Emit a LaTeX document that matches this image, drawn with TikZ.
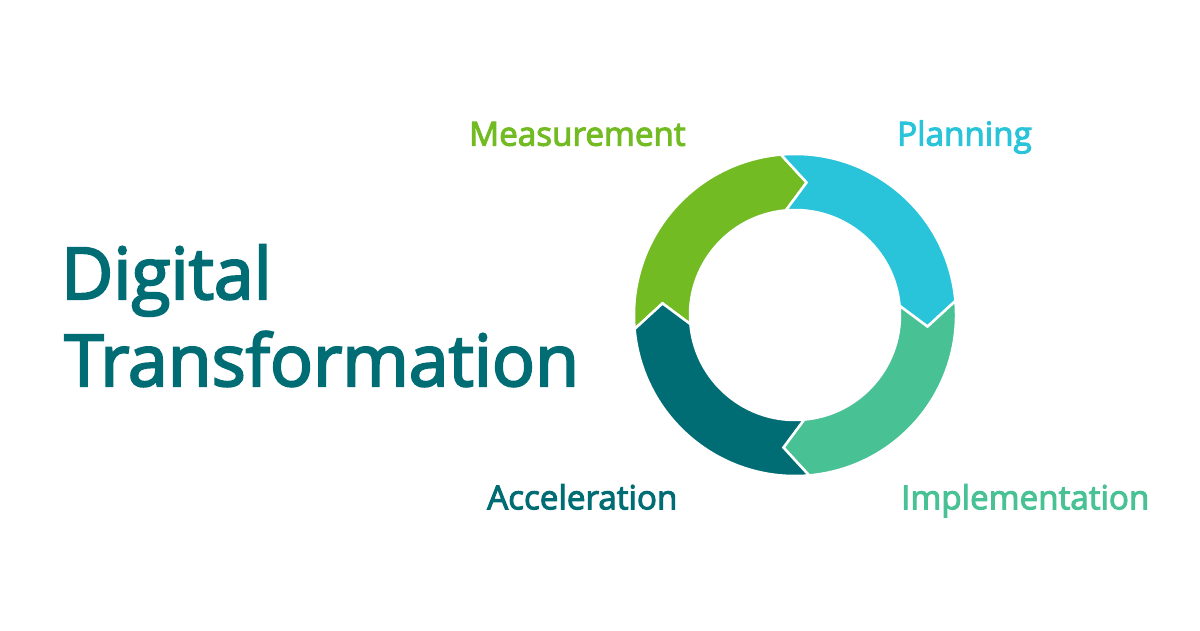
\documentclass[tikz,border=0pt]{standalone}
\usepackage{fontspec}
\setmainfont{Open Sans}
\newfontfamily\semib{Open Sans}[FakeBold=3]
\definecolor{cgreen}{HTML}{72BB22}
\definecolor{ccyan}{HTML}{29C4D9}
\definecolor{cmint}{HTML}{48C195}
\definecolor{cteal}{HTML}{006C73}
\tikzset{
  seg/.style={draw=white, line width=2.5pt, line join=miter},
  lbl/.style={anchor=base west, inner sep=0pt, font=\semib\fontsize{33.2}{40}\selectfont},
  ttl/.style={anchor=base west, inner sep=0pt, font=\semib\fontsize{71.5}{87}\selectfont, text=cteal}
}
\newcommand{\ringseg}[3]{%
  \path[seg, fill=#3] (#1:161) arc[start angle=#1, end angle=#2, radius=161]
    -- ({#2-10}:133) -- (#2:105) arc[start angle=#2, end angle=#1, radius=105]
    -- ({#1-10}:133) -- cycle;}
\begin{document}
\begin{tikzpicture}[x=1pt,y=1pt]
\useasboundingbox[fill=white] (0,0) rectangle (1200,630);
\begin{scope}[shift={(795,315)}]
  \ringseg{185}{95}{cgreen}
  \ringseg{95}{5}{ccyan}
  \ringseg{5}{-85}{cmint}
  \ringseg{-85}{-175}{cteal}
\end{scope}
\node[ttl] (t1) at (61,331) {Digital};
\node[ttl] (t2) at (64,244) {Transformation};
\node[lbl, text=cgreen] (m) at (469,484.3) {Measurement};
\node[lbl, text=ccyan] (p) at (897,484.3) {Planning};
\node[lbl, text=cteal] (a) at (487,120.7) {Acceleration};
\node[lbl, text=cmint] (i) at (901,120.7) {Implementation};
\end{tikzpicture}
\end{document}
